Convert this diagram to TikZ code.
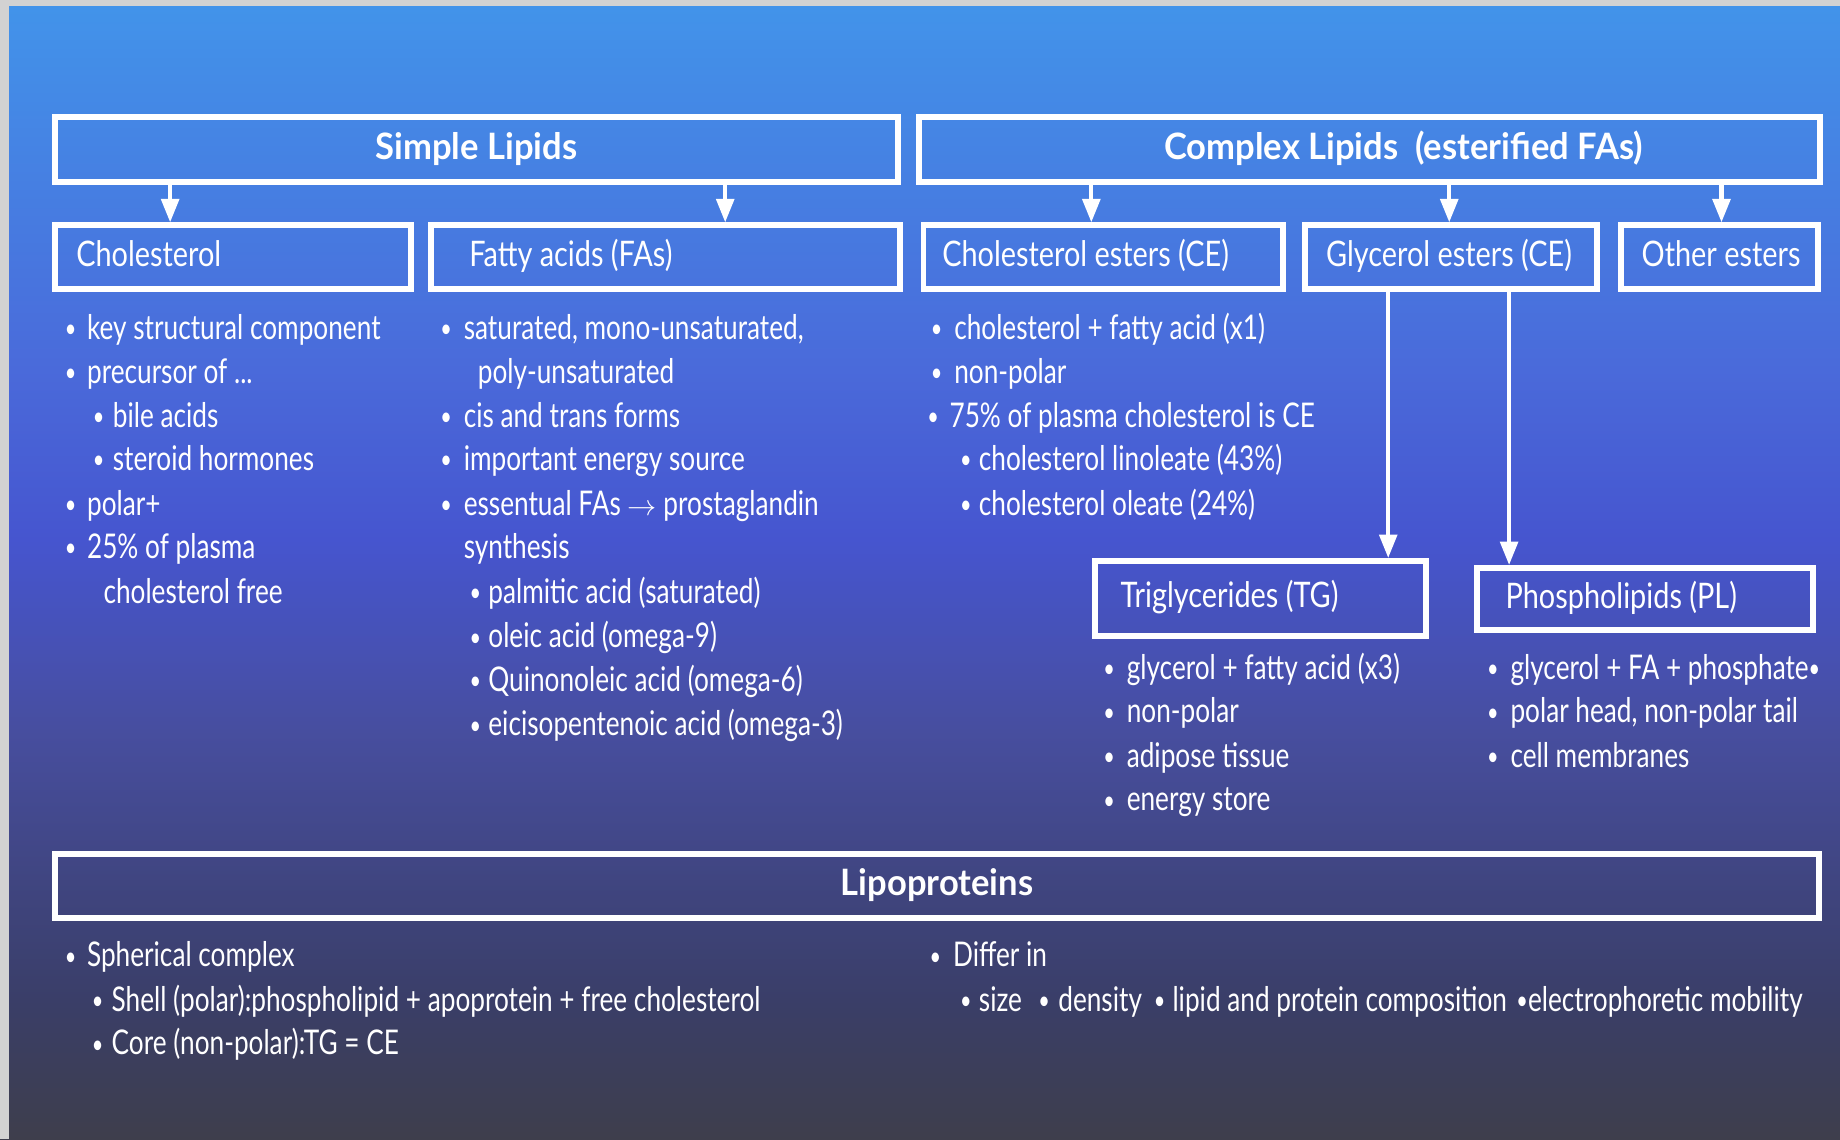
\documentclass[tikz,border=0pt]{standalone}
\usepackage{fontspec}
\setmainfont{Lato}[FakeStretch=0.77]
\newfontfamily\hdrfam{Lato}[FakeStretch=0.82]
\newfontfamily\ttlfam{Lato}[FakeStretch=0.95]
\usetikzlibrary{arrows.meta}
\definecolor{bgA}{HTML}{4294EA}
\definecolor{bgB}{HTML}{4A6ADA}
\definecolor{bgC}{HTML}{4655CF}
\definecolor{bgD}{HTML}{474E9F}
\definecolor{bgE}{HTML}{3A3E68}
\definecolor{bgF}{HTML}{3E3E4C}
\definecolor{edge}{HTML}{D2D2D2}
\newcommand{\lbul}[1][19pt]{\makebox[#1][l]{\fontsize{22}{22}\selectfont\raisebox{1.5pt}{\textbullet}}}
\newcommand{\bodyfont}{\fontsize{29}{35}\selectfont}
\newcommand{\boxfont}{\hdrfam\fontsize{30}{36}\selectfont}
\newcommand{\headfont}{\ttlfam\fontsize{31}{37}\selectfont\bfseries}
\tikzset{
  hbox/.style={draw=white, line width=5pt, minimum height=#1, inner ysep=0pt,
    text=white, font=\boxfont, text height=22pt, text depth=6pt},
  tbox/.style={draw=white, line width=5pt, minimum height=#1, inner sep=0pt,
    text=white, font=\headfont, text height=23pt, text depth=7pt},
  txt/.style={anchor=base west, inner sep=0pt, text=white, font=\bodyfont},
  arr/.style={draw=white, line width=3.5pt, -{Triangle[length=20pt,width=15pt]}}
}
\begin{document}
\begin{tikzpicture}[x=1pt,y=-1pt]
\useasboundingbox (0,0) rectangle (1568,971);
% background
\shade[top color=bgA, bottom color=bgB] (0,0) rectangle (1568,315.5);
\shade[top color=bgB, bottom color=bgC] (0,315) rectangle (1568,460.5);
\shade[top color=bgC, bottom color=bgD] (0,460) rectangle (1568,622.5);
\shade[top color=bgD, bottom color=bgE] (0,622) rectangle (1568,852.5);
\shade[top color=bgE, bottom color=bgF] (0,852) rectangle (1568,971);
\fill[edge] (0,0) rectangle (8,971);
\fill[edge] (0,0) rectangle (1568,5);

% title boxes
\node[tbox=55pt, minimum width=718pt] (simple) at (406,127.5) {Simple Lipids};
\node[tbox=55pt, minimum width=768pt] (complex) at (1167,127.5) {\hspace*{58pt}Complex Lipids\ \ (esterified FAs)};

% second row boxes
\node[hbox=54pt, inner xsep=18pt] (chol) at (198.5,219) {\makebox[267pt][l]{Cholesterol}};
\node[hbox=54pt, inner xsep=33pt] (fa) at (567,219) {\makebox[334pt][l]{Fatty acids (FAs)}};
\node[hbox=54pt, inner xsep=16pt] (ce) at (940,219) {\makebox[274pt][l]{Cholesterol esters (CE)}};
\node[hbox=54pt, inner xsep=18pt] (ge) at (1236.5,219) {\makebox[213pt][l]{Glycerol esters (CE)}};
\node[hbox=54pt, inner xsep=18pt] (oe) at (1465,219) {\makebox[132pt][l]{Other esters}};

% third row boxes
\node[hbox=64pt, inner xsep=22pt] (tg) at (1074,510) {\makebox[238pt][l]{Triglycerides (TG)}};
\node[hbox=53pt, inner xsep=24pt] (pl) at (1402,510.5) {\makebox[238pt][l]{Phospholipids (PL)}};

% lipoproteins
\node[tbox=54pt, minimum width=1503pt] (lipo) at (798.5,755) {Lipoproteins};

% connectors
\draw[arr] (145,0 |- simple.south) -- (145,0 |- chol.north);
\draw[arr] (618,0 |- simple.south) -- (618,0 |- fa.north);
\draw[arr] (930,0 |- complex.south) -- (930,0 |- ce.north);
\draw[arr] (1235,0 |- complex.south) -- (1235,0 |- ge.north);
\draw[arr] (1467,0 |- complex.south) -- (1467,0 |- oe.north);
\draw[arr] (1183,0 |- ge.south) -- (1183,0 |- tg.north);
\draw[arr] (1286,0 |- ge.south) -- (1286,0 |- pl.north);

% cholesterol list
\node[txt] (c1) at (55,289) {\lbul key structural component};
\node[txt] (c2) at (55,327) {\lbul precursor of ...};
\node[txt] (c3) at (79,364) {\lbul[17pt]bile acids};
\node[txt] (c4) at (79,401) {\lbul[17pt]steroid hormones};
\node[txt] (c5) at (55,439) {\lbul polar+};
\node[txt] (c6) at (55,476) {\lbul 25\% of plasma};
\node[txt] (c7) at (88,514) {cholesterol free};

% fatty acid list
\node[txt] (f1) at (375,289) {\lbul[20pt]saturated, mono-unsaturated,};
\node[txt] (f2) at (407,327) {poly-unsaturated};
\node[txt] (f3) at (375,364) {\lbul[20pt]cis and trans forms};
\node[txt] (f4) at (375,401) {\lbul[20pt]important energy source};
\node[txt] (f5) at (375,439) {\lbul[20pt]essentual FAs $\rightarrow$ prostaglandin};
\node[txt] (f6) at (395,476) {synthesis};
\node[txt] (f7) at (400,514) {\lbul[16pt]palmitic acid (saturated)};
\node[txt] (f8) at (400,552) {\lbul[16pt]oleic acid (omega-9)};
\node[txt] (f9) at (400,589) {\lbul[16pt]Quinonoleic acid (omega-6)};
\node[txt] (f10) at (400,627) {\lbul[16pt]eicisopentenoic acid (omega-3)};

% cholesterol ester list
\node[txt] (e1) at (793,289) {\lbul[20pt]cholesterol + fatty acid (x1)};
\node[txt] (e2) at (793,327) {\lbul[20pt]non-polar};
\node[txt] (e3) at (790,364) {\lbul[19pt]75\% of plasma cholesterol is CE};
\node[txt] (e4) at (818,401) {\lbul[16pt]cholesterol linoleate (43\%)};
\node[txt] (e5) at (818,439) {\lbul[16pt]cholesterol oleate (24\%)};

% triglyceride list
\node[txt] (t1) at (940,579) {\lbul[20pt]glycerol + fatty acid (x3)};
\node[txt] (t2) at (940,616) {\lbul[20pt]non-polar};
\node[txt] (t3) at (940,654) {\lbul[20pt]adipose tissue};
\node[txt] (t4) at (940,691) {\lbul[20pt]energy store};

% phospholipid list
\node[txt] (p1) at (1267,579) {\lbul[20pt]glycerol + FA + phosphate{\fontsize{22}{22}\selectfont\raisebox{1.5pt}{\textbullet}}};
\node[txt] (p2) at (1267,616) {\lbul[20pt]polar head, non-polar tail};
\node[txt] (p3) at (1267,654) {\lbul[20pt]cell membranes};

% lipoprotein lists
\node[txt] (l1) at (55,824) {\lbul Spherical complex};
\node[txt] (l2) at (78,862) {\lbul[17pt]Shell (polar):phospholipid + apoprotein + free cholesterol};
\node[txt] (l3) at (78,899) {\lbul[17pt]Core (non-polar):TG = CE};
\node[txt] (r1) at (792,824) {\lbul[20pt]Differ in};
\node[txt] (r2) at (818,862) {\lbul[16pt]size\hspace{14pt}\lbul[17pt]density\hspace{10pt}\lbul[16pt]lipid and protein composition\hspace{8pt}\lbul[10pt]electrophoretic mobility};
\end{tikzpicture}
\end{document}
